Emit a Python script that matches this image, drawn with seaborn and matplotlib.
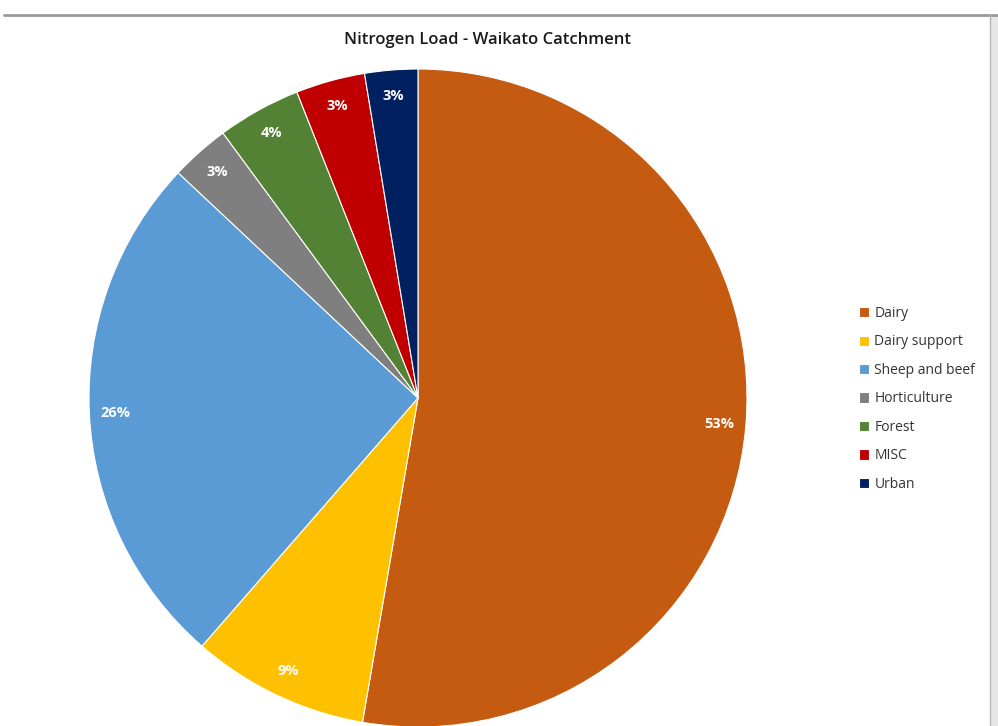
import matplotlib
matplotlib.use("Agg")
import matplotlib.pyplot as plt
import seaborn as sns
from matplotlib.lines import Line2D
from matplotlib.patches import Rectangle

# Share of nitrogen load by land use (percent)
categories = ["Dairy", "Dairy support", "Sheep and beef", "Horticulture",
              "Forest", "MISC", "Urban"]
shares = [52.7, 8.7, 25.6, 2.9, 4.1, 3.4, 2.6]
colors = ["#C55A11", "#FFC000", "#5B9BD5", "#7F7F7F",
          "#548235", "#C00000", "#002060"]
title = "Nitrogen Load - Waikato Catchment"

sns.set_theme(style="white")
plt.rcParams["font.family"] = ["Open Sans", "DejaVu Sans"]

W, H = 998, 726
fig = plt.figure(figsize=(W / 100, H / 100), dpi=100)
fig.patch.set_facecolor("white")

# square pie axes, positioned in pixel terms
cx, cy, r = 418, 398, 329
ax = fig.add_axes([(cx - r) / W, (H - cy - r) / H, 2 * r / W, 2 * r / H])

wedges, texts, autotexts = ax.pie(
    shares, colors=colors, startangle=90, counterclock=False, radius=1,
    autopct="%1.0f%%", pctdistance=0.92,
    wedgeprops=dict(edgecolor="white", linewidth=0.8),
    textprops=dict(color="white", fontsize=10.5, fontweight="bold"),
    frame=False,
)
ax.set_aspect("auto")
ax.set_xlim(-1, 1)
ax.set_ylim(-1, 1)
ax.set_axis_off()

fig.text(488 / W, 1 - 40 / H, title, ha="center", va="center",
         fontsize=12, fontweight="semibold", color="#1a1a1a")

leg = fig.legend(
    wedges, categories, loc="upper left",
    bbox_to_anchor=(859 / W, 1 - 306 / H),
    frameon=False, fontsize=10, handlelength=0.75, handleheight=0.75,
    handletextpad=0.35, labelspacing=0.97, borderaxespad=0, borderpad=0,
)
for t in leg.get_texts():
    t.set_color("#333333")

# window frame: top rule and right side panel
fig.add_artist(Line2D([4 / W, 1], [1 - 15 / H, 1 - 15 / H],
                      transform=fig.transFigure, color="#9a9a9a", lw=2))
fig.add_artist(Rectangle((990 / W, 0), 8 / W, 1 - 16 / H,
                         transform=fig.transFigure, facecolor="#e6e6e6",
                         edgecolor="none"))
fig.add_artist(Line2D([990 / W, 990 / W], [0, 1 - 15 / H],
                      transform=fig.transFigure, color="#b5b5b5", lw=1))

fig.savefig("out.png", dpi=100, facecolor="white")
